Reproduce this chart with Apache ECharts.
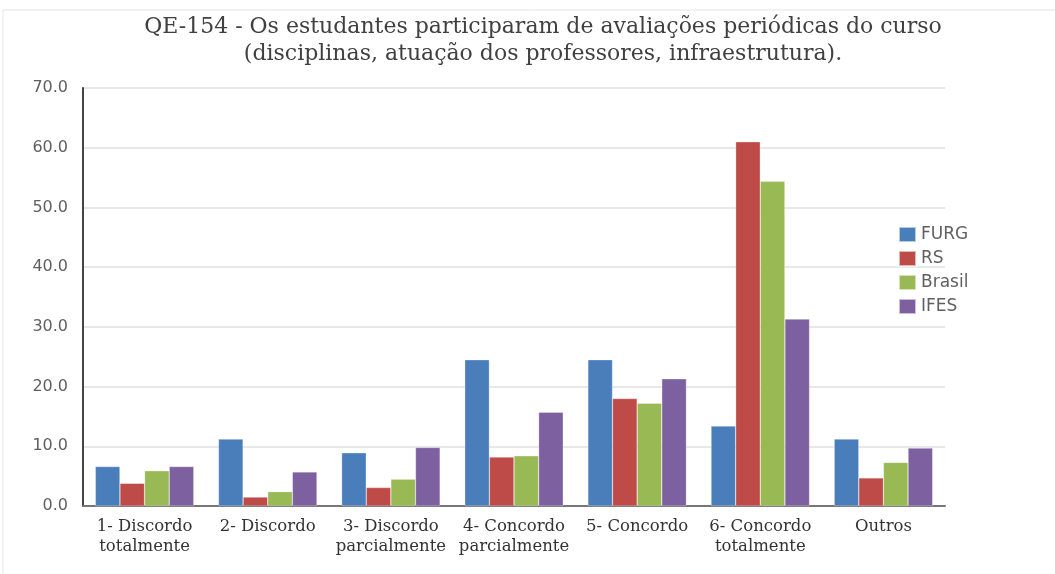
<!DOCTYPE html>
<html>
<head>
<meta charset="utf-8">
<script src="https://cdn.jsdelivr.net/npm/echarts@6/dist/echarts.min.js"></script>
<style>
  html, body { margin: 0; padding: 0; background: #fff; }
  #chart { width: 1055px; height: 574px; }
</style>
</head>
<body>
<div id="chart"></div>
<script>
const categories = [
  "1- Discordo\ntotalmente",
  "2- Discordo",
  "3- Discordo\nparcialmente",
  "4- Concordo\nparcialmente",
  "5- Concordo",
  "6- Concordo\ntotalmente",
  "Outros"
];
const seriesNames = ["FURG", "RS", "Brasil", "IFES"];
const furg = [6.6, 11.2, 8.9, 24.5, 24.5, 13.4, 11.2];
const rs = [3.8, 1.5, 3.1, 8.2, 18.0, 61.0, 4.7];
const brasil = [5.9, 2.4, 4.5, 8.4, 17.2, 54.4, 7.3];
const ifes = [6.6, 5.7, 9.8, 15.7, 21.3, 31.3, 9.7];
const colors = ["#4a7ebb", "#be4b48", "#98b954", "#7d60a0"];

const chart = echarts.init(document.getElementById("chart"));

const makeSeries = (name, data, i) => ({
  name: name,
  type: "bar",
  data: data,
  barGap: "0%",
  barCategoryGap: "20%",
  itemStyle: {
    color: colors[i],
    borderColor: "rgba(255,255,255,0.6)",
    borderWidth: 0.5
  }
});

chart.setOption({
  animation: false,
  graphic: [
    {
      type: "rect",
      shape: { x: 3, y: 10, width: 1060, height: 570 },
      style: { fill: "none", stroke: "#e4e4e4", lineWidth: 1 },
      silent: true
    }
  ],
  title: {
    text: "QE-154 - Os estudantes participaram de avaliações periódicas do curso\n(disciplinas, atuação dos professores, infraestrutura).",
    left: 538,
    top: 9,
    textAlign: "center",
    textStyle: {
      fontFamily: "DejaVu Serif",
      fontSize: 22,
      fontWeight: "normal",
      color: "#404040",
      lineHeight: 27
    }
  },
  legend: {
    orient: "vertical",
    left: 898,
    top: 226,
    padding: 0,
    itemWidth: 17,
    itemHeight: 15,
    itemGap: 7,
    icon: "rect",
    textStyle: {
      fontFamily: "DejaVu Sans",
      fontSize: 17,
      lineHeight: 17,
      color: "#606060",
      padding: [0, 0, 0, 0]
    },
    data: seriesNames
  },
  grid: {
    left: 83,
    right: 110,
    top: 88,
    bottom: 68,
    containLabel: false
  },
  xAxis: {
    type: "category",
    data: categories,
    axisLine: { lineStyle: { color: "#777", width: 2 } },
    axisTick: { show: false },
    axisLabel: {
      fontFamily: "DejaVu Serif",
      fontSize: 16.5,
      color: "#333",
      lineHeight: 20,
      margin: 11,
      interval: 0
    }
  },
  yAxis: {
    type: "value",
    min: 0,
    max: 70,
    interval: 10,
    axisLine: { show: true, lineStyle: { color: "#444", width: 2 } },
    axisTick: { show: false },
    splitLine: { lineStyle: { color: "#e0e0e0", width: 1.5 } },
    axisLabel: {
      fontFamily: "DejaVu Sans",
      fontSize: 16,
      color: "#606060",
      margin: 15,
      formatter: v => v.toFixed(1)
    }
  },
  series: [
    makeSeries(seriesNames[0], furg, 0),
    makeSeries(seriesNames[1], rs, 1),
    makeSeries(seriesNames[2], brasil, 2),
    makeSeries(seriesNames[3], ifes, 3)
  ]
});
</script>
</body>
</html>
